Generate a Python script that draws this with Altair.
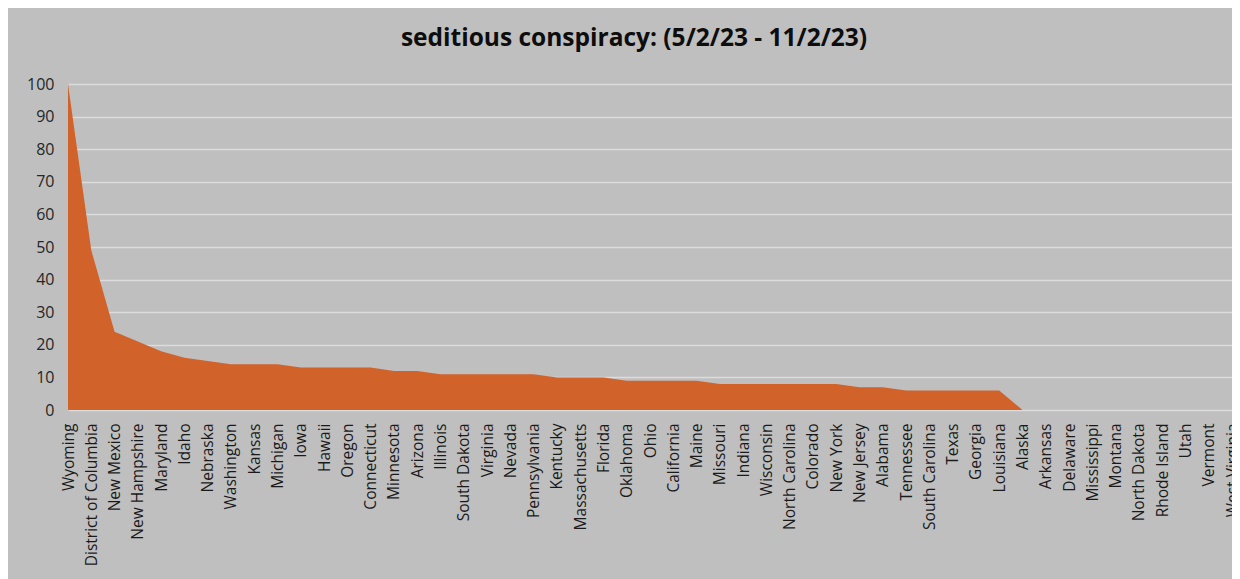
import altair as alt
import pandas as pd

states = ["Wyoming", "District of Columbia", "New Mexico", "New Hampshire", "Maryland", "Idaho",
          "Nebraska", "Washington", "Kansas", "Michigan", "Iowa", "Hawaii", "Oregon", "Connecticut",
          "Minnesota", "Arizona", "Illinois", "South Dakota", "Virginia", "Nevada", "Pennsylvania",
          "Kentucky", "Massachusetts", "Florida", "Oklahoma", "Ohio", "California", "Maine",
          "Missouri", "Indiana", "Wisconsin", "North Carolina", "Colorado", "New York", "New Jersey",
          "Alabama", "Tennessee", "South Carolina", "Texas", "Georgia", "Louisiana", "Alaska",
          "Arkansas", "Delaware", "Mississippi", "Montana", "North Dakota", "Rhode Island", "Utah",
          "Vermont", "West Virginia"]
values = [100, 49, 24, 21, 18, 16, 15, 14, 14, 14, 13, 13, 13, 13, 12, 12, 11, 11, 11, 11, 11,
          10, 10, 10, 9, 9, 9, 9, 8, 8, 8, 8, 8, 8, 7, 7, 6, 6, 6, 6, 6, 0,
          0, 0, 0, 0, 0, 0, 0, 0, 0]
y_ticks = [0, 10, 20, 30, 40, 50, 60, 70, 80, 90, 100]

df = pd.DataFrame({"state": states, "value": values})

chart = alt.Chart(df).mark_area(color="#D0622A", interpolate="linear").encode(
    x=alt.X("state:N", sort=states, title=None,
            scale=alt.Scale(type="point", padding=0),
            axis=alt.Axis(labelAngle=-90, labelFont="Open Sans", labelFontSize=15.5,
                          labelColor="#1a1a1a", ticks=False, domain=False, grid=False,
                          labelPadding=13, labelAlign="right", labelBaseline="middle",
                          labelOverlap=False, labelBound=False)),
    y=alt.Y("value:Q", title=None, scale=alt.Scale(domain=[0, 100], nice=False),
            axis=alt.Axis(values=y_ticks, labelFont="Open Sans", labelFontSize=16,
                          labelColor="#262626", ticks=False, domain=False,
                          gridColor="#DCDCDC", gridWidth=1.6, labelPadding=14)),
).properties(
    width=1164,
    height=326,
    background="#BFBFBF",
    padding={"left": 60, "top": 76, "right": 0, "bottom": 169},
    autosize=alt.AutoSizeParams(type="none"),
    title=alt.TitleParams("seditious conspiracy: (5/2/23 - 11/2/23)", font="Open Sans",
                          fontSize=24.5, fontWeight="bold", color="#0d0d0d", anchor="middle",
                          dx=-16, offset=6, baseline="alphabetic"),
).configure_view(stroke=None)

chart.save("out.html", embed_options={"renderer": "svg", "actions": False})
